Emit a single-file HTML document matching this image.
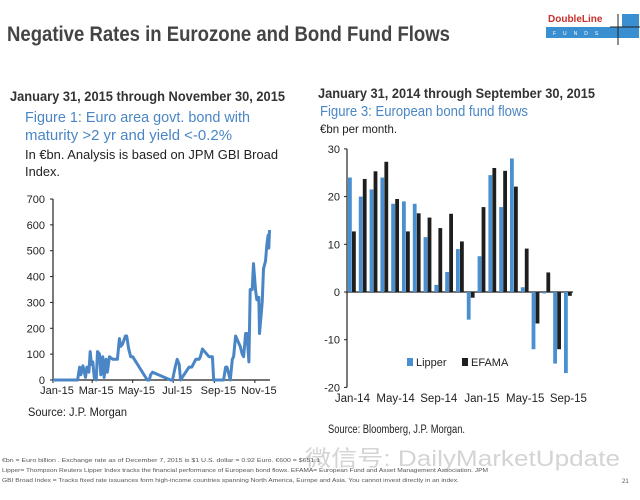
<!DOCTYPE html>
<html><head><meta charset="utf-8"><style>
body{margin:0;background:#fff;width:640px;height:495px;overflow:hidden;font-family:"Liberation Sans",sans-serif}
</style></head><body>
<svg width="640" height="495" viewBox="0 0 640 495" xmlns="http://www.w3.org/2000/svg" font-family="Liberation Sans, sans-serif">
<text x="7" y="41" font-size="21" font-weight="bold" fill="#444" textLength="443" lengthAdjust="spacingAndGlyphs">Negative Rates in Eurozone and Bond Fund Flows</text>
<g>
<text x="548" y="22" font-size="10" font-weight="bold" fill="#c9302c">DoubleLine</text>
<rect x="546" y="27" width="76" height="11" fill="#3a8fd0"/>
<text x="553" y="35" font-size="5" fill="#fff" letter-spacing="7">FUNDS</text>
<rect x="622" y="14" width="17" height="24" fill="#3a8fd0"/>
<line x1="618" y1="14" x2="618" y2="45" stroke="#222" stroke-width="1"/>
<line x1="610" y1="27" x2="640" y2="27" stroke="#222" stroke-width="1"/>
</g>
<text x="10" y="101" font-size="13.5" font-weight="bold" fill="#333" textLength="275" lengthAdjust="spacingAndGlyphs">January 31, 2015 through November 30, 2015</text>
<text x="25" y="122" font-size="15" fill="#4a86c5" textLength="225" lengthAdjust="spacingAndGlyphs">Figure 1: Euro area govt. bond with</text>
<text x="25" y="140" font-size="15" fill="#4a86c5" textLength="207" lengthAdjust="spacingAndGlyphs">maturity &gt;2 yr and yield &lt;-0.2%</text>
<text x="25" y="159" font-size="12.5" fill="#222" textLength="253" lengthAdjust="spacingAndGlyphs">In €bn. Analysis is based on JPM GBI Broad</text>
<text x="25" y="176" font-size="12.5" fill="#222" textLength="35" lengthAdjust="spacingAndGlyphs">Index.</text>
<text x="318" y="98" font-size="13.5" font-weight="bold" fill="#333" textLength="277" lengthAdjust="spacingAndGlyphs">January 31, 2014 through September 30, 2015</text>
<text x="320" y="116" font-size="14.5" fill="#4a86c5" textLength="208" lengthAdjust="spacingAndGlyphs">Figure 3: European bond fund flows</text>
<text x="320" y="133" font-size="12" fill="#222" textLength="77" lengthAdjust="spacingAndGlyphs">€bn per month.</text>
<g id="left"></g>
<g id="right"></g>
<text x="28" y="416" font-size="11.5" fill="#222" textLength="99" lengthAdjust="spacingAndGlyphs">Source:  J.P. Morgan</text>
<text x="328" y="433" font-size="11.5" fill="#222" textLength="137" lengthAdjust="spacingAndGlyphs">Source:  Bloomberg, J.P. Morgan.</text>
<text x="305" y="466" font-size="22" fill="#d4d4d4" textLength="315" lengthAdjust="spacingAndGlyphs">微信号: DailyMarketUpdate</text>
<g font-size="5.5" fill="#555">
<text x="2" y="462" textLength="318" lengthAdjust="spacingAndGlyphs">€bn = Euro billion . Exchange rate as of December 7, 2015 is $1 U.S. dollar = 0.92 Euro. €600 = $651.1</text>
<text x="2" y="472" textLength="486" lengthAdjust="spacingAndGlyphs">Lipper= Thompson Reuters Lipper Index tracks the financial performance of European bond flows. EFAMA= European Fund and Asset Management Association. JPM</text>
<text x="2" y="482" textLength="457" lengthAdjust="spacingAndGlyphs">GBI Broad Index = Tracks fixed rate issuances form high-income countries spanning North America, Europe and Asia. You cannot invest directly in an index.</text>
</g>
<text x="622" y="483" font-size="6" fill="#555">21</text>
</svg>
<script>
// Left chart data: day of year (2015) and €bn
const leftDays=[0,37,40,42,45,49,51,54,56,58,60,62,65,67,70,72,75,77,80,82,85,90,97,100,102,105,109,111,114,117,120,142,145,147,150,177,180,184,187,190,192,205,209,215,220,222,225,235,240,242,257,260,262,267,270,272,275,282,285,287,290,292,295,297,300,302,305,307,310,311,315,317,320,322,324,325,326];
const leftVals=[0,0,50,20,55,10,50,30,110,60,70,10,0,110,100,20,90,10,80,30,90,80,80,160,130,140,170,170,120,90,90,0,0,20,30,0,0,50,80,60,0,50,50,80,80,90,120,90,90,0,0,50,50,0,80,90,170,130,100,90,180,180,70,350,350,450,350,310,320,180,300,430,460,520,560,510,580];
const leftYTicks=[0,100,200,300,400,500,600,700];
const leftXLabels=["Jan-15","Mar-15","May-15","Jul-15","Sep-15","Nov-15"];
const leftXLabelDays=[0,59,120,181,243,304];
// Right chart data
const rightMonths=["Jan-14","Feb-14","Mar-14","Apr-14","May-14","Jun-14","Jul-14","Aug-14","Sep-14","Oct-14","Nov-14","Dec-14","Jan-15","Feb-15","Mar-15","Apr-15","May-15","Jun-15","Jul-15","Aug-15","Sep-15"];
const lipper=[24,20,21.5,24,18.5,19,18.5,11.5,1.5,4.2,9,-5.8,7.5,24.5,17.8,28,1,-12,-0.3,-15,-17];
const efama=[12.7,23.7,25.3,27.3,19.5,12.7,16.5,15.6,13.4,16.4,10.6,-1.2,17.8,26,25.4,22.1,9.1,-6.6,4.1,-12,-0.8];
const rightYTicks=[-20,-10,0,10,20,30];
const rightXLabels=["Jan-14","May-14","Sep-14","Jan-15","May-15","Sep-15"];
const rightXLabelIdx=[0,4,8,12,16,20];

const NS="http://www.w3.org/2000/svg";
function mk(tag,attrs,parent){const e=document.createElementNS(NS,tag);for(const k in attrs)e.setAttribute(k,attrs[k]);parent.appendChild(e);return e;}

// LEFT
const L=document.getElementById('left');
const lx=d=>53+d*0.664, ly=v=>380-v*(181/700);
let ax=mk('line',{x1:53,y1:199,x2:53,y2:380,stroke:'#222','stroke-width':1.2},L);


ax=mk('line',{x1:53,y1:380,x2:270,y2:380,stroke:'#222','stroke-width':1.2},L);


leftYTicks.forEach(t=>{
  mk('line',{x1:50,y1:ly(t),x2:53,y2:ly(t),stroke:'#222'},L);
  const tx=mk('text',{x:45,y:ly(t)+4,'font-size':11,'text-anchor':'end',fill:'#222'},L);
  tx.textContent=t;
  
  
});
leftXLabels.forEach((s,i)=>{
  const x=lx(leftXLabelDays[i]);
  mk('line',{x1:x,y1:380,x2:x,y2:383,stroke:'#222'},L);
  const tx=mk('text',{x:x+4,y:394,'font-size':11,'text-anchor':'middle',fill:'#222'},L);
  tx.textContent=s;
  
  
});
let pts=leftDays.map((d,i)=>lx(d).toFixed(1)+','+ly(leftVals[i]).toFixed(1)).join(' ');
const pl=mk('polyline',{points:pts,fill:'none',stroke:'#4a86c5','stroke-width':3,'stroke-linejoin':'round'},L);



// RIGHT
const R=document.getElementById('right');
const gw=10.8, rx=i=>347+i*gw, ry=v=>292-v*4.77;
ax=mk('line',{x1:347,y1:ry(30),x2:347,y2:ry(-20),stroke:'#222','stroke-width':1.2},R);


ax=mk('line',{x1:347,y1:ry(0),x2:573,y2:ry(0),stroke:'#222','stroke-width':1.2},R);


rightYTicks.forEach(t=>{
  mk('line',{x1:344,y1:ry(t),x2:347,y2:ry(t),stroke:'#222'},R);
  const tx=mk('text',{x:340,y:ry(t)+4,'font-size':11,'text-anchor':'end',fill:'#222'},R);
  tx.textContent=t;
  
  
});
rightMonths.forEach((m,i)=>{
  const x0=rx(i);
  const a=lipper[i], b=efama[i];
  const r1=mk('rect',{x:x0+1,y:Math.min(ry(a),ry(0)),width:3.8,height:Math.abs(ry(a)-ry(0)),fill:'#4a90d0'},R);
  
  
  const r2=mk('rect',{x:x0+5,y:Math.min(ry(b),ry(0)),width:3.8,height:Math.abs(ry(b)-ry(0)),fill:'#1e1e1e'},R);
  
  
});
rightXLabels.forEach((s,i)=>{
  const x=rx(rightXLabelIdx[i])+gw/2;
  const tx=mk('text',{x:x,y:402,'font-size':11.5,'text-anchor':'middle',fill:'#222'},R);
  tx.textContent=s;
  
  
});
let lg=mk('rect',{x:407,y:358,width:6,height:8,fill:'#4a90d0'},R);


let lt=mk('text',{x:416,y:366,'font-size':11,fill:'#222'},R);lt.textContent='Lipper';


lg=mk('rect',{x:462,y:358,width:6,height:8,fill:'#1e1e1e'},R);


lt=mk('text',{x:471,y:366,'font-size':11,fill:'#222'},R);lt.textContent='EFAMA';


</script>
</body></html>
